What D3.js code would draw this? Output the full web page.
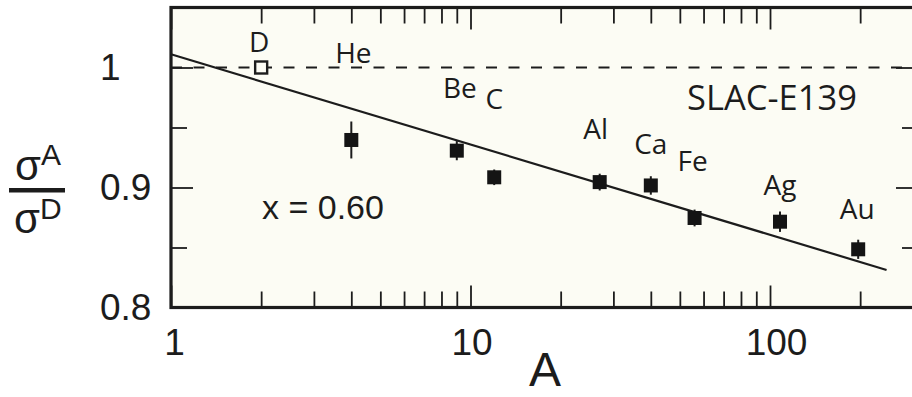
<!DOCTYPE html>
<html>
<head>
<meta charset="utf-8">
<script src="https://cdn.jsdelivr.net/npm/d3@7/dist/d3.min.js"></script>
<style>
  html, body { margin: 0; padding: 0; background: #ffffff; }
  svg { display: block; }
</style>
</head>
<body>
<svg id="chart" width="912" height="397"></svg>
<script>
// Nuclear targets and the measured cross-section ratio sigma_A / sigma_D
const elements     = ["D", "He", "Be", "C", "Al", "Ca", "Fe", "Ag", "Au"];
const massNumbers  = [2, 4, 9, 12, 27, 40, 56, 108, 197];
const ratios       = [1.000, 0.9396, 0.9307, 0.9085, 0.9045, 0.9017, 0.8746, 0.8715, 0.8485];
const ratioErrors  = [0, 0.0154, 0.0080, 0.0065, 0.0070, 0.0077, 0.0070, 0.0085, 0.0080];

// Fitted line (end points in A and ratio)
const fitA     = [1, 245];
const fitRatio = [1.011, 0.8313];

// Axis ticks
const xMajorTicks = [1, 10, 100];
const xMinorTicks = [2, 3, 4, 5, 6, 7, 8, 9, 20, 30, 40, 50, 60, 70, 80, 90, 200, 300];
const yMajorTicks = [0.8, 0.9, 1.0];
const yMinorTicks = [0.85, 0.95];
const xTickLabels = ["1", "10", "100"];
const yTickLabels = ["0.8", "0.9", "1"];

// Label placement tweaks
const xTickLabelDx = [3, 1, 6];
const labelRatio = [1.0127, 1.0035, 0.9743, 0.9652, 0.9402, 0.9279, 0.9140, 0.8938, 0.8735];
const labelDx    = [-2, 2, 3, 0, -4, 0, -2, 0, -1];

const ink = "#1c1c1c";
const svg = d3.select("#chart");

const plot = { left: 171, right: 918, top: 7.5, bottom: 307.5 };

const x = d3.scaleLog().domain([1, 312]).range([plot.left, plot.right]);
const y = d3.scaleLinear().domain([0.8, 1.05]).range([plot.bottom, plot.top]);

// Plot background
svg.append("rect")
  .attr("x", plot.left).attr("y", plot.top)
  .attr("width", plot.right - plot.left).attr("height", plot.bottom - plot.top)
  .attr("fill", "#fcfcf4");

const g = svg.append("g");

// Reference line at ratio = 1
g.append("line")
  .attr("x1", x(1)).attr("x2", x(312))
  .attr("y1", y(1)).attr("y2", y(1))
  .attr("stroke", ink).attr("stroke-width", 2)
  .attr("stroke-dasharray", "11,11.5");

// Fit line
const fitPts = fitA.map((a, i) => [a, fitRatio[i]]);
g.append("path")
  .datum(fitPts)
  .attr("d", d3.line().x(d => x(d[0])).y(d => y(d[1])))
  .attr("fill", "none").attr("stroke", ink).attr("stroke-width", 2.2);

const pts = elements.map((e, i) => ({
  name: e, a: massNumbers[i], r: ratios[i], err: ratioErrors[i],
  lr: labelRatio[i], dx: labelDx[i]
}));

// Error bars
g.selectAll(".err").data(pts.filter(d => d.err > 0)).join("line")
  .attr("class", "err")
  .attr("x1", d => x(d.a)).attr("x2", d => x(d.a))
  .attr("y1", d => y(d.r - d.err)).attr("y2", d => y(d.r + d.err))
  .attr("stroke", ink).attr("stroke-width", 2);

// Markers: open square for deuterium, filled squares for the rest
const sq = 14;
g.selectAll(".pt").data(pts).join("rect")
  .attr("class", "pt")
  .attr("x", d => x(d.a) - (d.name === "D" ? 6 : sq / 2))
  .attr("y", d => y(d.r) - (d.name === "D" ? 6 : sq / 2))
  .attr("width", d => d.name === "D" ? 12 : sq)
  .attr("height", d => d.name === "D" ? 12 : sq)
  .attr("fill", d => d.name === "D" ? "#fcfcf4" : "#141414")
  .attr("stroke", d => d.name === "D" ? ink : "none")
  .attr("stroke-width", 2.4);

// Element labels
g.selectAll(".lbl").data(pts).join("text")
  .attr("class", "lbl")
  .attr("x", d => x(d.a) + d.dx)
  .attr("y", d => y(d.lr))
  .attr("text-anchor", "middle")
  .attr("font-family", "'Open Sans', sans-serif")
  .attr("font-size", 28)
  .attr("fill", ink)
  .text(d => d.name);

svg.append("text")
  .attr("x", 687).attr("y", 110)
  .attr("font-family", "'Open Sans', sans-serif")
  .attr("font-size", 34.5)
  .attr("fill", ink)
  .text("SLAC-E139");

svg.append("text")
  .attr("x", 262).attr("y", 219)
  .attr("font-family", "'Liberation Sans', Arial, sans-serif")
  .attr("font-size", 34)
  .attr("fill", ink)
  .text("x = 0.60");

// Axes: ticks point inward on all four sides
function styleAxis(sel) {
  sel.select(".domain").remove();
  sel.selectAll(".tick line").attr("stroke", ink).attr("stroke-width", 1.8);
  sel.selectAll(".tick text")
    .attr("font-family", "'Liberation Sans', Arial, sans-serif")
    .attr("font-size", 37).attr("fill", ink);
}

// bottom
svg.append("g").attr("transform", `translate(0,${plot.bottom})`)
  .call(d3.axisBottom(x).tickValues(xMinorTicks).tickSize(-16).tickFormat(""))
  .call(styleAxis);
svg.append("g").attr("transform", `translate(0,${plot.bottom})`)
  .call(d3.axisBottom(x).tickValues(xMajorTicks).tickSize(-22)
    .tickFormat((d, i) => xTickLabels[i]))
  .call(styleAxis)
  .call(s => s.selectAll(".tick text").attr("y", 47.5).attr("dy", 0)
    .attr("x", (d, i) => xTickLabelDx[i]));
// top
svg.append("g").attr("transform", `translate(0,${plot.top})`)
  .call(d3.axisTop(x).tickValues(xMinorTicks).tickSize(-16).tickFormat(""))
  .call(styleAxis);
svg.append("g").attr("transform", `translate(0,${plot.top})`)
  .call(d3.axisTop(x).tickValues(xMajorTicks).tickSize(-22).tickFormat(""))
  .call(styleAxis);
// left (labels flush-left in a column)
svg.append("g").attr("transform", `translate(${plot.left},0)`)
  .call(d3.axisLeft(y).tickValues(yMinorTicks).tickSize(-16).tickFormat(""))
  .call(styleAxis);
svg.append("g").attr("transform", `translate(${plot.left},0)`)
  .call(d3.axisLeft(y).tickValues(yMajorTicks).tickSize(-22)
    .tickFormat((d, i) => yTickLabels[i]))
  .call(styleAxis)
  .call(s => s.selectAll(".tick text").attr("text-anchor", "start").attr("x", -71));
// right
svg.append("g").attr("transform", `translate(${plot.right},0)`)
  .call(d3.axisRight(y).tickValues(yMinorTicks).tickSize(-16).tickFormat(""))
  .call(styleAxis);
svg.append("g").attr("transform", `translate(${plot.right},0)`)
  .call(d3.axisRight(y).tickValues(yMajorTicks).tickSize(-22).tickFormat(""))
  .call(styleAxis);

// Frame
svg.append("rect")
  .attr("x", plot.left).attr("y", plot.top)
  .attr("width", plot.right - plot.left).attr("height", plot.bottom - plot.top)
  .attr("fill", "none").attr("stroke", ink).attr("stroke-width", 3.2);

// Axis titles
svg.append("text")
  .attr("x", 545).attr("y", 386)
  .attr("text-anchor", "middle")
  .attr("font-family", "'Liberation Sans', Arial, sans-serif")
  .attr("font-size", 48).attr("fill", ink)
  .text("A");

const yTitle = svg.append("g")
  .attr("font-family", "'Liberation Sans', Arial, sans-serif")
  .attr("fill", ink);
const num = yTitle.append("text").attr("x", 15).attr("y", 180).attr("font-size", 42);
num.append("tspan").text("σ");
num.append("tspan").attr("font-size", 30).attr("dy", -15).text("A");
yTitle.append("rect")
  .attr("x", 9).attr("y", 188).attr("width", 56).attr("height", 4.5);
const den = yTitle.append("text").attr("x", 14).attr("y", 233).attr("font-size", 42);
den.append("tspan").text("σ");
den.append("tspan").attr("font-size", 30).attr("dy", -14).text("D");
</script>
</body>
</html>
